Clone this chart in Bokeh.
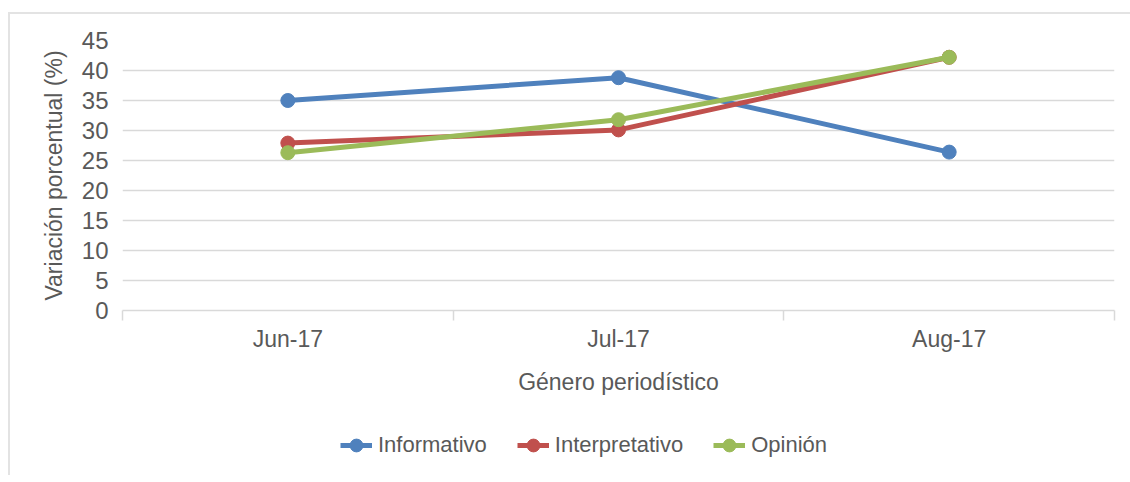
from bokeh.plotting import figure
from bokeh.layouts import column
from bokeh.models import FixedTicker, Legend, LegendItem, Range1d
from bokeh.embed import file_html
from bokeh.resources import INLINE

# ---- data ----
months = ["Jun-17", "Jul-17", "Aug-17"]
series_names = ["Informativo", "Interpretativo", "Opinión"]
informativo = [35.0, 38.8, 26.4]
interpretativo = [27.9, 30.1, 42.2]
opinion = [26.3, 31.8, 42.2]
y_ticks = [0, 5, 10, 15, 20, 25, 30, 35, 40, 45]
x_title = "Género periodístico"
y_title = "Variación porcentual (%)"

colors = ["#4F81BD", "#C0504D", "#9BBB59"]
FONT = "Liberation Sans"
TXT = "#595959"
GRID = "#d9d9d9"

xs = [i + 0.5 for i in range(len(months))]
bounds = [i for i in range(len(months) + 1)]
all_series = [informativo, interpretativo, opinion]

p = figure(
    frame_width=992, frame_height=270,
    min_border_left=112, min_border_top=26, min_border_right=16, min_border_bottom=105,
    x_range=Range1d(0, len(months)), y_range=Range1d(0, 45),
    output_backend="svg", toolbar_location=None,
    background_fill_color="white", border_fill_color="white",
)
p.outline_line_color = None

# y axis
ya = p.yaxis[0]
ya.ticker = FixedTicker(ticks=y_ticks)
ya.axis_line_color = None
ya.major_tick_line_color = None
ya.minor_tick_line_color = None
ya.major_tick_out = 0
ya.major_tick_in = 0
ya.major_label_standoff = 14
ya.major_label_text_font = FONT
ya.major_label_text_font_size = "24px"
ya.major_label_text_color = TXT
ya.axis_label = y_title
ya.axis_label_text_font = FONT
ya.axis_label_text_font_size = "23px"
ya.axis_label_text_font_style = "normal"
ya.axis_label_text_color = TXT
ya.axis_label_standoff = 12

# x axis
xa = p.xaxis[0]
xa.ticker = FixedTicker(ticks=xs, minor_ticks=bounds)
xa.major_label_overrides = {x: m for x, m in zip(xs, months)}
xa.axis_line_color = GRID
xa.axis_line_width = 1.5
xa.major_tick_line_color = None
xa.major_tick_out = 0
xa.major_tick_in = 0
xa.minor_tick_line_color = GRID
xa.minor_tick_line_width = 1.5
xa.minor_tick_out = 10
xa.minor_tick_in = 0
xa.major_label_standoff = 5
xa.major_label_text_font = FONT
xa.major_label_text_font_size = "23px"
xa.major_label_text_color = TXT
xa.axis_label = x_title
xa.axis_label_text_font = FONT
xa.axis_label_text_font_size = "23px"
xa.axis_label_text_font_style = "normal"
xa.axis_label_text_color = TXT
xa.axis_label_standoff = 14

p.xgrid.grid_line_color = None
p.ygrid.grid_line_color = GRID
p.ygrid.grid_line_width = 1.5
p.ygrid.ticker = FixedTicker(ticks=y_ticks)

for vals, col in zip(all_series, colors):
    p.line(xs, vals, line_color=col, line_width=5)
    p.scatter(xs, vals, size=14, fill_color=col, line_color=col)

# ---- legend strip (separate canvas so that it is not clipped) ----
# its ranges lie away from the data, so only the legend entries show
lf = figure(
    width=1120, height=60, min_border=0,
    x_range=Range1d(100, 101), y_range=Range1d(100, 101),
    x_axis_location=None, y_axis_location=None,
    output_backend="svg", toolbar_location=None,
    background_fill_color="white", border_fill_color="white",
)
lf.outline_line_color = None
lf.xgrid.grid_line_color = None
lf.ygrid.grid_line_color = None

items = []
for name, vals, col in zip(series_names, all_series, colors):
    ln = lf.line(xs, vals, line_color=col, line_width=5)
    sc = lf.scatter(xs, vals, size=14, fill_color=col, line_color=col)
    items.append(LegendItem(label=name, renderers=[ln, sc]))

legend = Legend(items=items, orientation="horizontal", location=(218, 13))
legend.label_text_font = FONT
legend.label_text_font_size = "22px"
legend.label_text_color = TXT
legend.glyph_width = 32
legend.glyph_height = 34
legend.label_standoff = 6
legend.spacing = 30
legend.padding = 0
legend.margin = 0
legend.border_line_color = None
legend.background_fill_alpha = 0
lf.add_layout(legend)

layout = column(p, lf, spacing=0)
layout.styles = {"border-top": "2px solid #e3e3e3", "border-left": "2px solid #e3e3e3",
                 "margin-top": "12px", "margin-left": "8px"}

open("out.html", "w").write(file_html(layout, INLINE))
